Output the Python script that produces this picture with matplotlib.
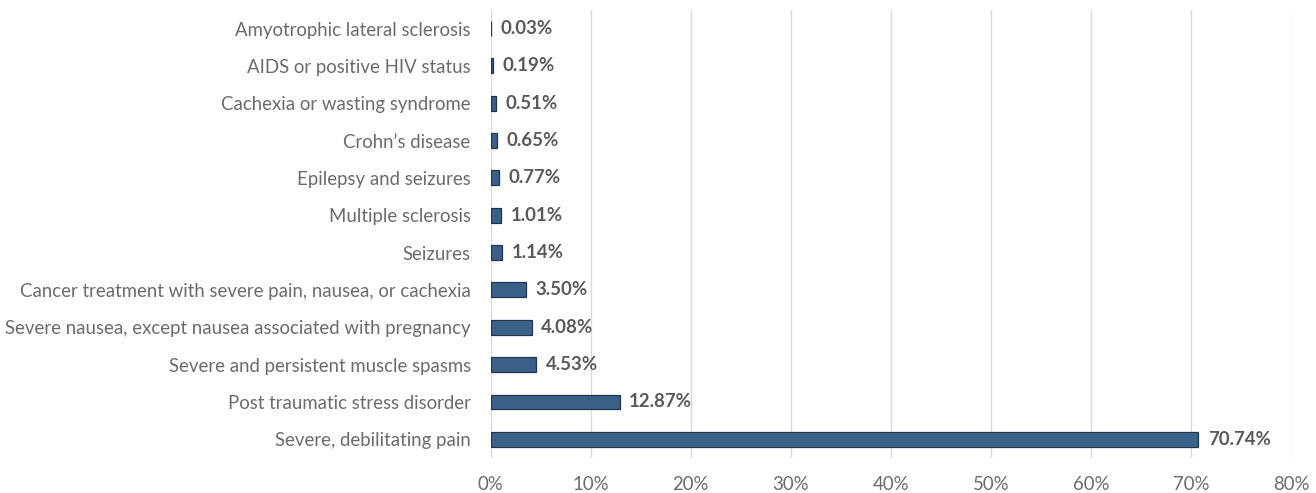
import numpy as np
import matplotlib
matplotlib.use('Agg')
from matplotlib import pyplot as plt
from matplotlib.ticker import FuncFormatter

plt.rcParams['font.family'] = ['Lato', 'DejaVu Sans']

# categories from bottom to top
conditions = [
    'Severe, debilitating pain',
    'Post traumatic stress disorder',
    'Severe and persistent muscle spasms',
    'Severe nausea, except nausea associated with pregnancy',
    'Cancer treatment with severe pain, nausea, or cachexia',
    'Seizures',
    'Multiple sclerosis',
    'Epilepsy and seizures',
    'Crohn\u2019s disease',
    'Cachexia or wasting syndrome',
    'AIDS or positive HIV status',
    'Amyotrophic lateral sclerosis',
]
shares = [70.74, 12.87, 4.53, 4.08, 3.50, 1.14, 1.01, 0.77, 0.65, 0.51, 0.19, 0.03]
xticks = [0, 10, 20, 30, 40, 50, 60, 70, 80]

GREY = '#595959'
LIGHTGREY = '#6B6B6B'

fig = plt.figure(figsize=(13.16, 4.93), dpi=100)
ax = fig.add_axes([0.373, 0.071, 0.608, 0.909])

y = np.arange(len(conditions))
ax.barh(y, shares, height=0.4, color='#3B6088', edgecolor='#1F3550', linewidth=0.9, zorder=3)

for yi, v in zip(y, shares):
    ax.text(v + 0.95, yi, '%.2f%%' % v, va='center', ha='left',
            fontsize=13.4, fontweight='bold', color=GREY)

ax.set_xlim(0, 80)
ax.set_ylim(-0.5, len(conditions) - 0.5)
ax.set_xticks(xticks)
ax.xaxis.set_major_formatter(FuncFormatter(lambda v, p: '%d%%' % v))
ax.set_yticks(y)
ax.set_yticklabels(conditions)
ax.tick_params(axis='both', length=0, labelsize=13.4, colors=LIGHTGREY)
ax.tick_params(axis='y', pad=14.5)
ax.tick_params(axis='x', pad=13)
ax.grid(axis='x', color='#D9D9D9', linewidth=1.0, zorder=0)
for s in ax.spines.values():
    s.set_visible(False)

plt.savefig('out.png', dpi=100)
